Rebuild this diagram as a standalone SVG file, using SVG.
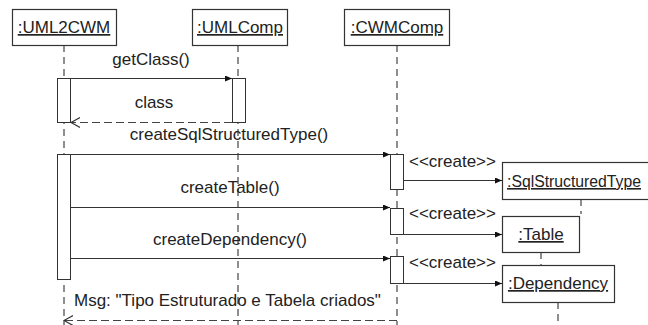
<svg xmlns="http://www.w3.org/2000/svg" width="648" height="325" viewBox="0 0 648 325">
<style>
.box{fill:#fff;stroke:#333;stroke-width:1.2}
.act{fill:#fff;stroke:#333;stroke-width:1}
.life{stroke:#444;stroke-width:1.2;stroke-dasharray:7,5;fill:none}
.msg{stroke:#333;stroke-width:1.1;fill:none}
.ret{stroke:#444;stroke-width:1.1;fill:none;stroke-dasharray:8,4}
text{font-family:"Liberation Sans",Arial,sans-serif;font-size:17px;fill:#222}
.u{text-decoration:underline}
</style>
<defs>
<marker id="fill" markerWidth="8" markerHeight="8" refX="7" refY="3" orient="auto" markerUnits="userSpaceOnUse">
<path d="M0,0 L7,3 L0,6 Z" fill="#111"/>
</marker>
<marker id="open" markerWidth="12" markerHeight="12" refX="9" refY="5" orient="auto" markerUnits="userSpaceOnUse">
<path d="M0,0 L9,5 L0,10" fill="none" stroke="#333" stroke-width="1.1"/>
</marker>
</defs>
<g id="lifelines">
<line class="life" x1="64" y1="45" x2="64" y2="325"/>
<line class="life" x1="238" y1="45" x2="238" y2="325"/>
<line class="life" x1="397" y1="45" x2="397" y2="325"/>
<line class="life" x1="581" y1="199" x2="581" y2="214"/>
<line class="life" x1="541" y1="252" x2="541" y2="265"/>
<line class="life" x1="558" y1="302" x2="558" y2="325"/>
</g>
<g id="UML2CWM">
<rect class="box" x="12.5" y="9.5" width="104" height="36"/>
<text class="u" x="64" y="33" text-anchor="middle">:UML2CWM</text>
<rect class="act" x="57.5" y="78.5" width="13" height="44"/>
<rect class="act" x="57.5" y="154.5" width="13" height="125"/>
</g>
<g id="UMLComp">
<rect class="box" x="192.5" y="9.5" width="95" height="36"/>
<text class="u" x="240" y="33" text-anchor="middle">:UMLComp</text>
<rect class="act" x="232.5" y="78.5" width="13" height="44"/>
</g>
<g id="CWMComp">
<rect class="box" x="344.5" y="9.5" width="105" height="36"/>
<text class="u" x="397" y="33" text-anchor="middle">:CWMComp</text>
<rect class="act" x="390.5" y="154.5" width="13" height="35"/>
<rect class="act" x="390.5" y="208.5" width="13" height="26"/>
<rect class="act" x="390.5" y="256.5" width="13" height="27"/>
</g>
<g id="SqlStructuredType">
<rect class="box" x="502.5" y="162.5" width="160" height="37"/>
<text class="u" x="507" y="187" style="font-size:16px" textLength="134" lengthAdjust="spacingAndGlyphs">:SqlStructuredType</text>
</g>
<g id="Table">
<rect class="box" x="502.5" y="216.5" width="77" height="36"/>
<text class="u" x="541" y="240" text-anchor="middle">:Table</text>
</g>
<g id="Dependency">
<rect class="box" x="502.5" y="265.5" width="112" height="37"/>
<text class="u" x="558" y="289" text-anchor="middle">:Dependency</text>
</g>
<g id="connectors">
<line class="msg" x1="71" y1="78.5" x2="232" y2="78.5" marker-end="url(#fill)"/>
<text x="151" y="65" text-anchor="middle">getClass()</text>
<line class="ret" x1="232" y1="122.5" x2="71" y2="122.5" marker-end="url(#open)"/>
<text x="154" y="108" text-anchor="middle">class</text>
<line class="msg" x1="71" y1="154.5" x2="390" y2="154.5" marker-end="url(#fill)"/>
<text x="229" y="140" text-anchor="middle">createSqlStructuredType()</text>
<line class="msg" x1="71" y1="207.5" x2="390" y2="207.5" marker-end="url(#fill)"/>
<text x="230" y="193" text-anchor="middle">createTable()</text>
<line class="msg" x1="71" y1="258.5" x2="390" y2="258.5" marker-end="url(#fill)"/>
<text x="230" y="245" text-anchor="middle">createDependency()</text>
<line class="ret" x1="397" y1="320.5" x2="64" y2="320.5" marker-end="url(#open)"/>
<text x="74" y="306">Msg: "Tipo Estruturado e Tabela criados"</text>
<line class="msg" x1="403" y1="180.5" x2="502" y2="180.5" marker-end="url(#fill)"/>
<text x="409" y="167">&lt;&lt;create&gt;&gt;</text>
<line class="msg" x1="403" y1="234.5" x2="502" y2="234.5" marker-end="url(#fill)"/>
<text x="409" y="219">&lt;&lt;create&gt;&gt;</text>
<line class="msg" x1="403" y1="283.5" x2="502" y2="283.5" marker-end="url(#fill)"/>
<text x="409" y="268">&lt;&lt;create&gt;&gt;</text>
</g>
</svg>
